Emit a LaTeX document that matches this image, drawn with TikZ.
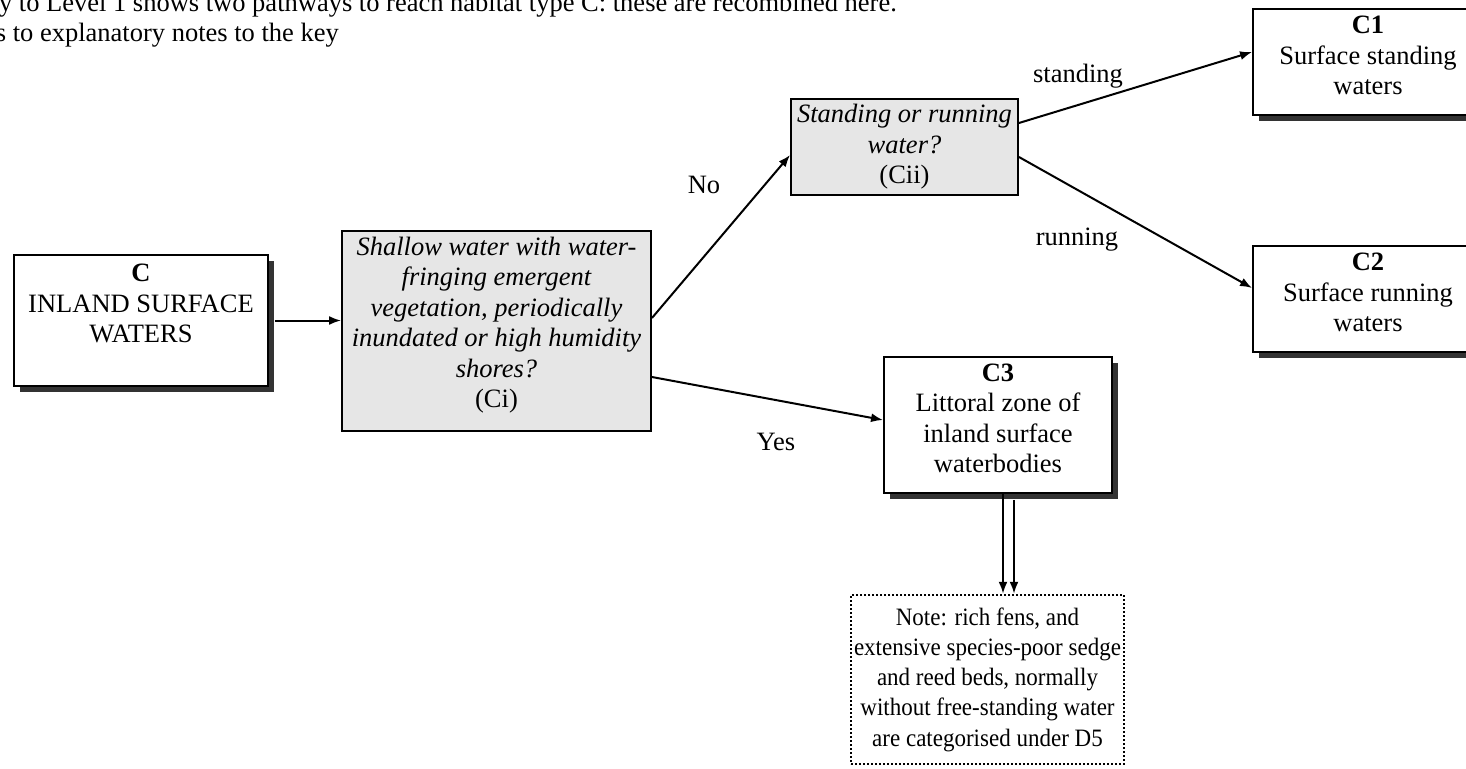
\documentclass[tikz,border=0pt]{standalone}
\usepackage{fontspec}
\setmainfont{Liberation Serif}
\newfontfamily\notefont[FakeStretch=0.92]{Liberation Serif}
\usetikzlibrary{shadows,calc,arrows.meta}
\definecolor{askgray}{HTML}{E6E6E6}
\definecolor{shadowgray}{HTML}{333333}
\begin{document}
\begin{tikzpicture}[x=1pt,y=-1pt,
  every node/.style={font=\fontsize{26.5}{30.5}\selectfont},
  box/.style={draw, line width=1.9pt, fill=white, align=center, inner sep=0pt},
  shade/.style={drop shadow={shadow xshift=6pt, shadow yshift=-6pt, fill=shadowgray, opacity=1}},
  ask/.style={box, fill=askgray, font=\fontsize{26.5}{30.5}\selectfont\itshape},
  notebox/.style={draw, line width=2.5pt, dash pattern=on 2pt off 2pt, fill=white, align=center, inner sep=0pt,
    font=\notefont\fontsize{25}{30.3}\selectfont},
  link/.style={line width=2pt, -{Latex[length=12pt,width=9pt]}},
  tag/.style={inner sep=0pt, anchor=base}]

\fill[white] (0,0) rectangle (1466,768);
\useasboundingbox (0,0) rectangle (1466,768);

% heading lines
\node[inner sep=0pt, anchor=base east] (head1) at (897,12) {y to Level 1 shows two pathways to reach habitat type C: these are recombined here.};
\node[inner sep=0pt, anchor=base east] (head2) at (339,42) {s to explanatory notes to the key};

% habitat boxes and questions
\node[box, shade, minimum width=254pt, minimum height=131pt] (C) at (141,320.5)
  {\textbf{C}\\INLAND SURFACE\\WATERS\rule[-34.5pt]{0pt}{34.5pt}};
\node[ask, minimum width=309pt, minimum height=200pt] (Ci) at (496.5,331)
  {Shallow water with water-\\fringing emergent\\vegetation, periodically\\inundated or high humidity\\shores?\\\upshape(Ci)\rule[-17pt]{0pt}{17pt}};
\node[ask, minimum width=227pt, minimum height=96pt] (Cii) at (904.5,147)
  {Standing or running\\water?\\\upshape(Cii)};
\node[box, shade, minimum width=230pt, minimum height=106pt] (C1) at (1368,62)
  {\textbf{C1}\\Surface standing\\waters\rule[-13.5pt]{0pt}{13.5pt}};
\node[box, shade, minimum width=230pt, minimum height=106pt] (C2) at (1368,299)
  {\textbf{C2}\\Surface running\\waters\rule[-13.5pt]{0pt}{13.5pt}};
\node[box, shade, minimum width=228pt, minimum height=136pt] (C3) at (998,425)
  {\textbf{C3}\\Littoral zone of\\inland surface\\waterbodies\rule[-13.5pt]{0pt}{13.5pt}};
\node[notebox, minimum width=273pt, minimum height=169pt] (Note) at (987.5,679.5)
  {Note: rich fens, and\\extensive species-poor sedge\\and reed beds, normally\\without free-standing water\\are categorised under D5};

% connectors
\draw[link] ([xshift=6pt]C.east) -- (C.east -| Ci.west);
\draw[link] ([yshift=13pt]Ci.east) -- ([yshift=-8pt]Cii.west);
\draw[link] ([yshift=-46pt]Ci.east) -- ([yshift=5pt]C3.west);
\draw[link] ([yshift=24pt]Cii.east) -- ([yshift=10pt]C1.west);
\draw[link] ([yshift=-10pt]Cii.east) -- ([yshift=11pt]C2.west);
\draw[link] ([xshift=5pt]C3.south) -- ([xshift=5pt]C3.south |- Note.north);
\draw[link] ([xshift=16pt,yshift=-6pt]C3.south) -- ([xshift=16pt]C3.south |- Note.north);

% branch labels
\node[tag] (no) at (704,193) {No};
\node[tag] (yes) at (776,450) {Yes};
\node[tag] (standing) at (1078,82) {standing};
\node[tag] (running) at (1077,245) {running};
\end{tikzpicture}
\end{document}
